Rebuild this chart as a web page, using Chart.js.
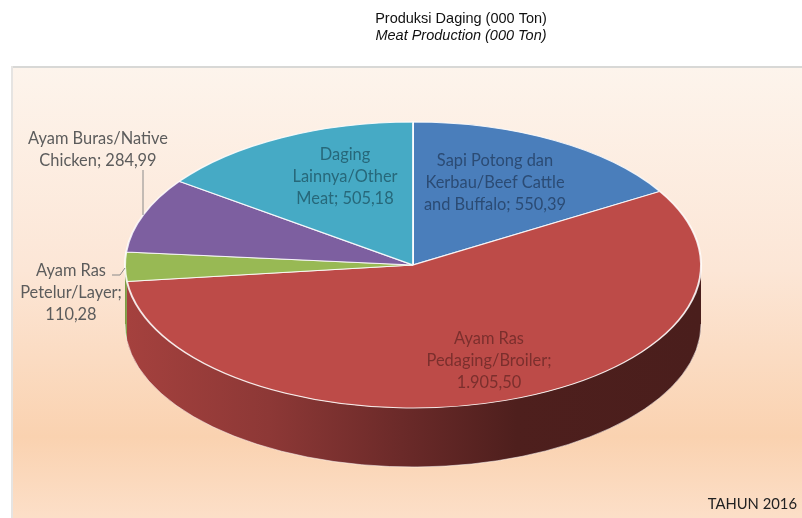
<!DOCTYPE html>
<html>
<head>
<meta charset="utf-8">
<title>Produksi Daging</title>
<script src="https://cdn.jsdelivr.net/npm/chart.js@4"></script>
<style>
  html, body { margin: 0; padding: 0; background: #fff; }
  canvas { display: block; }
</style>
</head>
<body>
<canvas id="meat-production-chart" width="802" height="518"></canvas>
<script>
const categories = ['Sapi Potong dan Kerbau/Beef Cattle and Buffalo', 'Ayam Ras Pedaging/Broiler', 'Ayam Ras Petelur/Layer', 'Ayam Buras/Native Chicken', 'Daging Lainnya/Other Meat'];
const production = [550.39, 1905.50, 110.28, 284.99, 505.18];
const sliceColors = ['#4a7ebb', '#bd4b48', '#98b954', '#7d5fa0', '#46aac5'];
// last line of each label gets the value appended
const labelLines = [
    ['Sapi Potong dan', 'Kerbau/Beef Cattle', 'and Buffalo; '],
    ['Ayam Ras', 'Pedaging/Broiler;', ''],
    ['Ayam Ras', 'Petelur/Layer;', ''],
    ['Ayam Buras/Native', 'Chicken; '],
    ['Daging', 'Lainnya/Other', 'Meat; ']
];
const titleLines = ['Produksi Daging (000 Ton)', 'Meat Production (000 Ton)'];
const yearLabel = 'TAHUN 2016';

const TILT = 143 / 288;
const DEPTH = 59;
const labelPlaces = [
    { x: 495, y: 161, color: '#2b4b74' },
    { x: 489, y: 339, color: '#7b2f2d' },
    { x: 71, y: 271, color: '#5c5c5c' },
    { x: 98, y: 139, color: '#5c5c5c' },
    { x: 345, y: 155, color: '#27687a' }
];

// 1905.5 -> 1.905,50
function formatValue(v) {
    let parts = v.toFixed(2).split('.');
    return parts[0].replace(/\B(?=(\d{3})+$)/, '.') + ',' + parts[1];
}

function sideGradient(ctx) {
    let g = ctx.createLinearGradient(125, 0, 701, 0);
    g.addColorStop(0, '#a5413e');
    g.addColorStop(0.25, '#8d3836');
    g.addColorStop(0.48, '#6b2a29');
    g.addColorStop(0.68, '#4e1f1d');
    g.addColorStop(1, '#4a1e1c');
    return g;
}

const pie3d = {
    id: 'pie3d',
    beforeDraw(chart) {
        // panel behind the pie
        const ctx = chart.ctx;
        let g = ctx.createLinearGradient(0, 68, 0, 518);
        g.addColorStop(0, '#fdf4ec');
        g.addColorStop(0.45, '#fce6d6');
        g.addColorStop(0.82, '#fad2b0');
        g.addColorStop(1, '#fcdfc8');
        ctx.save();
        ctx.fillStyle = g;
        ctx.fillRect(12, 68, 790, 450);
        ctx.fillStyle = '#d8d8d6';
        ctx.fillRect(12, 66, 790, 2);
        ctx.fillStyle = '#e6e4e2';
        ctx.fillRect(11, 66, 2, 452);
        ctx.restore();
    },
    beforeDatasetsDraw(chart) {
        const ctx = chart.ctx;
        const arcs = chart.getDatasetMeta(0).data;
        const cy = arcs[0].y;
        ctx.save();
        ctx.translate(0, cy);
        ctx.scale(1, TILT);
        ctx.translate(0, -cy);
        // side wall, only the front half of the rim shows
        arcs.forEach(function (arc, i) {
            let a0 = Math.max(arc.startAngle, 0);
            let a1 = Math.min(arc.endAngle, Math.PI);
            if (a1 <= a0) return;
            ctx.beginPath();
            ctx.arc(arc.x, arc.y, arc.outerRadius, a0, a1);
            ctx.arc(arc.x, arc.y + DEPTH / TILT, arc.outerRadius, a1, a0, true);
            ctx.closePath();
            ctx.fillStyle = i === 1 ? sideGradient(ctx) : '#7d9c44';
            ctx.fill();
            ctx.beginPath();
            ctx.arc(arc.x, arc.y + DEPTH / TILT, arc.outerRadius, a1, a0, true);
            ctx.strokeStyle = 'rgba(255,255,255,0.7)';
            ctx.lineWidth = 1;
            ctx.stroke();
        });
    },
    afterDatasetsDraw(chart) {
        chart.ctx.restore();
    },
    afterDraw(chart) {
        const ctx = chart.ctx;
        ctx.save();
        ctx.textAlign = 'center';
        ctx.textBaseline = 'middle';

        ctx.fillStyle = '#111';
        ctx.font = '14.5px "Liberation Sans"';
        ctx.fillText(titleLines[0], 461, 19);
        ctx.font = 'italic 14.5px "Liberation Sans"';
        ctx.fillText(titleLines[1], 461, 36);

        ctx.font = '16.4px Lato';
        labelLines.forEach(function (lines, i) {
            ctx.fillStyle = labelPlaces[i].color;
            lines.forEach(function (line, n) {
                let text = n === lines.length - 1 ? line + formatValue(production[i]) : line;
                ctx.fillText(text, labelPlaces[i].x, labelPlaces[i].y + n * 21.7);
            });
        });

        // leader lines for the two outside labels
        ctx.strokeStyle = '#8a8a8a';
        ctx.lineWidth = 1;
        ctx.beginPath();
        ctx.moveTo(143, 170);
        ctx.lineTo(143, 215);
        ctx.moveTo(112, 275);
        ctx.lineTo(120, 275);
        ctx.lineTo(125, 268);
        ctx.stroke();

        ctx.fillStyle = '#222';
        ctx.font = '14.8px Lato';
        ctx.textAlign = 'right';
        ctx.fillText(yearLabel, 797, 504);
        ctx.restore();
    }
};

new Chart(document.getElementById('meat-production-chart'), {
    type: 'pie',
    data: {
        labels: categories,
        datasets: [{
            data: production,
            backgroundColor: sliceColors,
            borderColor: 'rgba(255,255,255,0.85)',
            borderWidth: 2,
            clip: false
        }]
    },
    options: {
        responsive: false,
        animation: false,
        radius: 288,
        layout: { padding: { left: 24, top: 12 } },
        plugins: {
            legend: { display: false },
            tooltip: { enabled: false }
        }
    },
    plugins: [pie3d]
});
</script>
</body>
</html>
